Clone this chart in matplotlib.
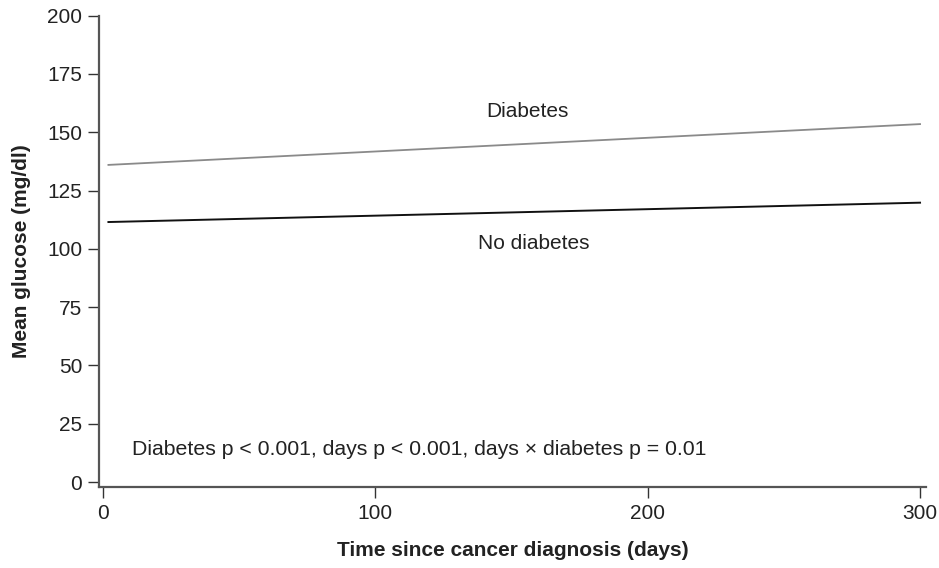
import matplotlib
matplotlib.use("Agg")
import numpy as np
import matplotlib.pyplot as plt

plt.rcParams["font.family"] = ["Liberation Sans", "DejaVu Sans"]

# fitted mean glucose at start and end of follow-up
days = [2, 300]
diabetes = [136.0, 153.5]
no_diabetes = [111.5, 119.8]

xticks = [0, 100, 200, 300]
yticks = [0, 25, 50, 75, 100, 125, 150, 175, 200]

txt = "#222222"
axc = "#555555"

fig = plt.figure(figsize=(9.39, 5.68), dpi=100)
ax = fig.add_axes([0.1054, 0.1426, 0.8808, 0.8298])

ax.plot(days, diabetes, color="#8a8a8a", lw=1.3)
ax.plot(days, no_diabetes, color="#111111", lw=1.4)

ax.text(156, 158.8, "Diabetes", ha="center", va="center", fontsize=15, color=txt)
ax.text(158, 102.5, "No diabetes", ha="center", va="center", fontsize=15, color=txt)
ax.text(10.6, 14.1, "Diabetes p < 0.001, days p < 0.001, days \u00d7 diabetes p = 0.01",
        ha="left", va="center", fontsize=15.3, color=txt)

ax.set_xlim(-1.47, 302.2)
ax.set_ylim(-2.14, 200)
ax.set_xticks(xticks)
ax.set_yticks(yticks)

for s in ["top", "right"]:
    ax.spines[s].set_visible(False)
for s in ["left", "bottom"]:
    ax.spines[s].set_color(axc)
    ax.spines[s].set_linewidth(1.6)

ax.tick_params(axis="both", length=8, width=1.0, color="#333333",
               labelsize=15, labelcolor=txt)
ax.tick_params(axis="y", pad=4)
ax.tick_params(axis="x", pad=4)

ax.set_xlabel("Time since cancer diagnosis (days)", fontsize=15,
              fontweight="bold", color=txt, labelpad=13)
ax.set_ylabel("Mean glucose (mg/dl)", fontsize=15, fontweight="bold",
              color=txt, labelpad=12)

fig.savefig("out.png", dpi=100)
